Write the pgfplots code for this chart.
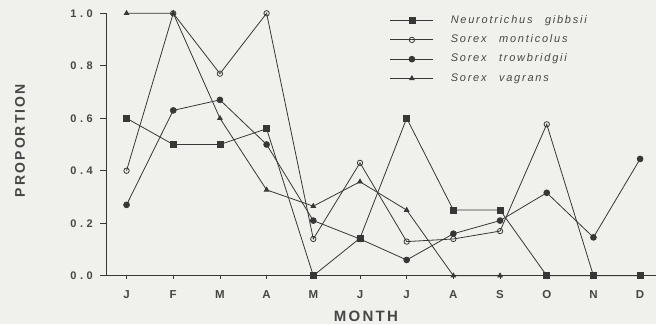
\documentclass[border=0pt]{standalone}
\usepackage{fontspec}
\setmainfont{Liberation Sans}
\usepackage{pgfplots}
\pgfplotsset{compat=1.18}
\definecolor{bgcol}{RGB}{240,240,236}
\definecolor{ink}{RGB}{55,55,55}
\definecolor{txt}{RGB}{70,70,70}
\newfontfamily\legfont[LetterSpace=16,WordSpace=2.6]{Liberation Sans}
\newfontfamily\labfont[LetterSpace=15]{Liberation Sans}
\newcommand\tk[2]{#1\hspace{3.6pt}.\hspace{3.6pt}#2}
\begin{document}
\begin{tikzpicture}
\fill[bgcol] (0,0) rectangle (656pt,324pt);
\useasboundingbox (0,0) rectangle (656pt,324pt);
\begin{axis}[
  at={(106pt,48.3pt)}, anchor=south west,
  scale only axis, width=550pt, height=262.4pt,
  xmin=-0.44, xmax=11.34, ymin=0, ymax=1,
  clip=false,
  axis x line=bottom, axis y line=left,
  axis line style={-, draw=ink, line width=0.9pt},
  tick align=outside,
  major tick length=6pt,
  xtick style={draw=ink, line width=0.8pt, /pgfplots/major tick length=3pt},
  ytick style={draw=ink, line width=0.8pt},
  xtick={0,...,11},
  xticklabels={J,F,M,A,M,J,J,A,S,O,N,D},
  ytick={0,0.2,0.4,0.6,0.8,1},
  yticklabels={\tk00,\tk02,\tk04,\tk06,\tk08,\tk10},
  xticklabel style={font=\fontsize{11.5}{12}\selectfont\bfseries, text=txt, anchor=north, inner sep=0pt, yshift=-9pt},
  yticklabel style={font=\fontsize{11}{12}\selectfont\bfseries, text=txt, anchor=east, inner sep=0pt, xshift=-7pt},
  xlabel={MONTH}, ylabel={PROPORTION},
  xlabel style={font=\labfont\fontsize{15}{16}\selectfont\bfseries, text=txt, at={(axis description cs:0.4727,-0.1536)}, anchor=center},
  ylabel style={font=\labfont\fontsize{14}{15}\selectfont\bfseries, text=txt, at={(axis description cs:-0.1564,0.515)}, anchor=center},
  legend style={draw=none, fill=none, at={(axis description cs:0.516,0.993)}, anchor=north west, inner sep=0pt, row sep=8.8pt,
     nodes={inner sep=0pt, text height=8pt, text depth=2.5pt, font=\legfont\fontsize{11}{12}\selectfont\itshape, text=txt}},
  legend cell align=left,
  legend image code/.code={\draw[#1, mark repeat=2, mark phase=2] plot coordinates {(0pt,0pt) (21.5pt,0pt) (43pt,0pt)}; \path (60pt,0pt);},
  every axis plot/.append style={draw=ink, line width=0.8pt},
]
\addplot[mark=square*, mark size=3pt, mark options={fill=ink}] coordinates {
 (0,0.6) (1,0.5) (2,0.5) (3,0.56) (4,0) (5,0.143) (6,0.6) (7,0.25) (8,0.25) (9,0) (10,0) (11,0)};
\addlegendentry{Neurotrichus gibbsii}
\addplot[mark=o, mark size=2.7pt, mark options={fill=bgcol}] coordinates {
 (0,0.4) (1,1.0) (2,0.77) (3,1.0) (4,0.14) (5,0.43) (6,0.13) (7,0.14) (8,0.17) (9,0.577) (10,0)};
\addlegendentry{Sorex monticolus}
\addplot[mark=*, mark size=2.9pt, mark options={fill=ink}] coordinates {
 (0,0.27) (1,0.63) (2,0.67) (3,0.5) (4,0.21) (5,0.14) (6,0.06) (7,0.16) (8,0.21) (9,0.316) (10,0.146) (11,0.445)};
\addlegendentry{Sorex trowbridgii}
\addplot[mark=triangle*, mark size=2.6pt, mark options={fill=ink}] coordinates {
 (0,1.0) (1,1.0) (2,0.6) (3,0.327) (4,0.265) (5,0.358) (6,0.25) (7,0) (8,0)};
\addlegendentry{Sorex vagrans}
\end{axis}
\end{tikzpicture}
\end{document}
